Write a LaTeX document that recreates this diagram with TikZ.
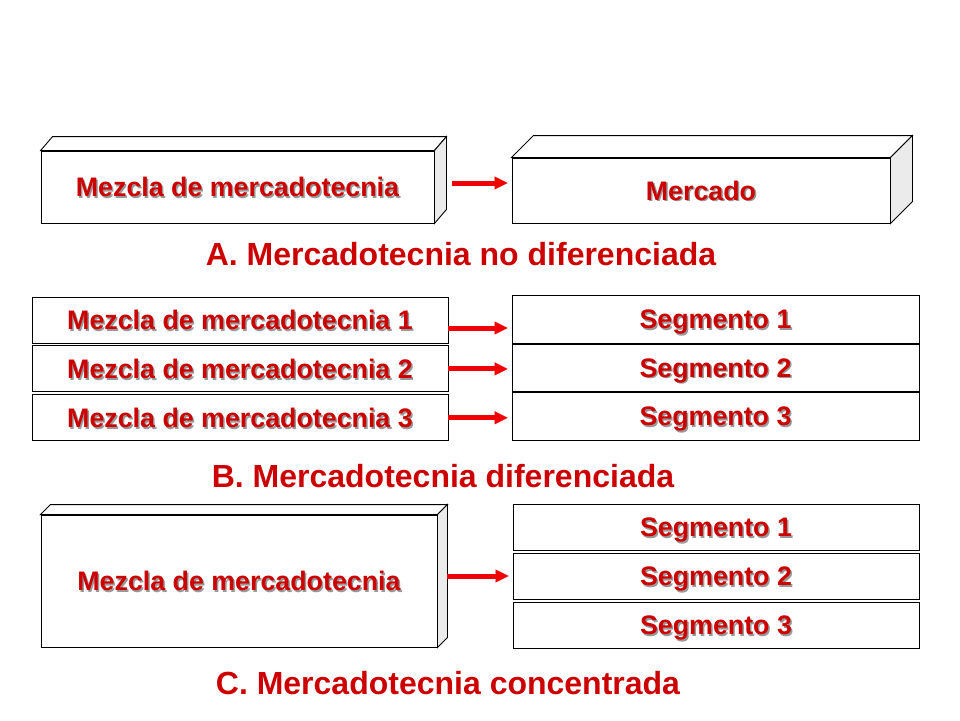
\documentclass[tikz,border=0pt]{standalone}
\usepackage{fontspec}
\setmainfont{Liberation Sans}
\usetikzlibrary{positioning}
\usetikzlibrary{arrows.meta}
\definecolor{rojo}{RGB}{204,0,0}
\definecolor{rojoflecha}{RGB}{240,0,0}
\newcommand{\sombra}[1]{\rlap{\hspace{1.5pt}\raisebox{-1.5pt}{\color{black!40}#1}}#1}
\tikzstyle{caja}=[draw, fill=white, line width=0.9pt, inner sep=0pt, text depth=0pt, text=rojo, font=\fontsize{26.8}{30}\selectfont\bfseries]
\tikzstyle{cara}=[draw, line width=0.9pt, fill=white]
\tikzstyle{lado}=[cara, fill=black!8]
\tikzstyle{flecha}=[-{Triangle[length=13pt,width=13pt,line width=0.1pt]}, line width=5pt, rojoflecha, shorten >=4pt]
\tikzstyle{titulo}=[text=rojo, font=\fontsize{32}{36}\selectfont\bfseries]

\begin{document}
\begin{tikzpicture}[x=1pt, y=-1pt]
        \useasboundingbox (0,0) rectangle (960,720);
        % A
        \node[caja, minimum width=393pt, minimum height=72pt] (mixA) at (237.5,187) {\sombra{Mezcla de mercadotecnia}};
        \draw[cara] (mixA.north west) -- +(12,-14) -- ([shift={(12,-14)}]mixA.north east) -- (mixA.north east) -- cycle;
        \draw[lado] (mixA.north east) -- +(12,-14) -- ([shift={(12,-14)}]mixA.south east) -- (mixA.south east) -- cycle;
        \node[caja, minimum width=378pt, minimum height=65pt] (mktA) at (701,190.5) {\sombra{Mercado}};
        \draw[cara] (mktA.north west) -- +(22,-22) -- ([shift={(22,-22)}]mktA.north east) -- (mktA.north east) -- cycle;
        \draw[lado] (mktA.north east) -- +(22,-22) -- ([shift={(22,-22)}]mktA.south east) -- (mktA.south east) -- cycle;
        \draw[flecha] ([xshift=18pt,yshift=4pt]mixA.east) -- ([yshift=4pt]mixA.east -| mktA.west);
        \node[titulo] (titA) at (461,254) {A. Mercadotecnia no diferenciada};
        % B
        \node[caja, minimum width=416pt, minimum height=46pt] (mixB1) at (240,320) {\sombra{Mezcla de mercadotecnia 1}};
        \node[caja, minimum width=416pt, minimum height=46pt, below=2pt of mixB1] (mixB2) {\sombra{Mezcla de mercadotecnia 2}};
        \node[caja, minimum width=416pt, minimum height=46pt, below=2pt of mixB2] (mixB3) {\sombra{Mezcla de mercadotecnia 3}};
        \node[caja, minimum width=407pt, minimum height=47.5pt] (segB1) at (715.5,319.5) {\sombra{Segmento 1}};
        \node[caja, minimum width=407pt, minimum height=47.5pt, below=0pt of segB1] (segB2) {\sombra{Segmento 2}};
        \node[caja, minimum width=407pt, minimum height=47.5pt, below=0pt of segB2] (segB3) {\sombra{Segmento 3}};
        \draw[flecha] ([yshift=-8pt]mixB1.east) -- ([yshift=-8pt]mixB1.east -| segB1.west);
        \draw[flecha] (mixB2.east) -- (mixB2.east -| segB2.west);
        \draw[flecha] (mixB3.east) -- (mixB3.east -| segB3.west);
        \node[titulo] (titB) at (443,476) {B. Mercadotecnia diferenciada};
        % C
        \node[caja, minimum width=396pt, minimum height=132pt] (mixC) at (239,581) {\sombra{Mezcla de mercadotecnia}};
        \draw[cara] (mixC.north west) -- +(10,-10) -- ([shift={(10,-10)}]mixC.north east) -- (mixC.north east) -- cycle;
        \draw[lado] (mixC.north east) -- +(10,-10) -- ([shift={(10,-10)}]mixC.south east) -- (mixC.south east) -- cycle;
        \node[caja, minimum width=406pt, minimum height=46.5pt] (segC1) at (716,527.5) {\sombra{Segmento 1}};
        \node[caja, minimum width=406pt, minimum height=46.5pt, below=1.5pt of segC1] (segC2) {\sombra{Segmento 2}};
        \node[caja, minimum width=406pt, minimum height=46.5pt, below=1.5pt of segC2] (segC3) {\sombra{Segmento 3}};
        \draw[flecha] ([xshift=10pt,yshift=5pt]mixC.east) -- ([yshift=5pt]mixC.east -| segC2.west);
        \node[titulo] (titC) at (448,683) {C. Mercadotecnia concentrada};
    \end{tikzpicture}
\end{document}
